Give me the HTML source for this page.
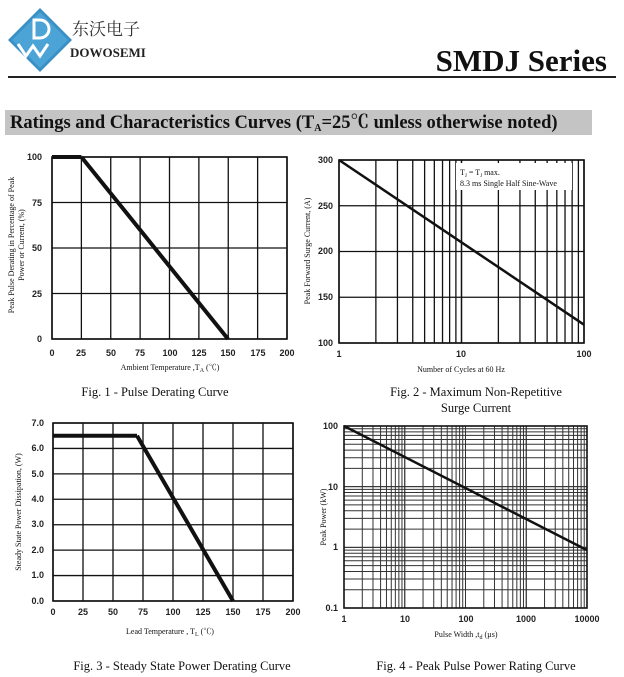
<!DOCTYPE html>
<html><head><meta charset="utf-8"><style>
body{margin:0;background:#fff;width:624px;height:677px;overflow:hidden}
svg{display:block}
text{font-family:"Liberation Serif","Noto Serif CJK SC",serif;fill:#111}
.t{font-size:9px}
.a{font-size:8px}
.c{font-size:12.5px}
.s{font-family:"Liberation Sans",sans-serif;font-size:9px;font-weight:bold;fill:#222}
</style></head><body>
<svg id="s" width="624" height="677" xmlns="http://www.w3.org/2000/svg">
<polygon points="40,8 72,40 40,72 8,40" fill="#3a8fc4"/>
<polygon points="40,12 68,40 40,68 12,40" fill="#4ba3d6"/>
<path d="M34,20 v18 h6 a9,9 0 0 0 0,-18 z" fill="none" stroke="#fff" stroke-width="3"/>
<path d="M18,44 l8,12 l7,-10 l7,10 l8,-12" fill="none" stroke="#fff" stroke-width="3"/>
<text x="72" y="35" style="font-family:'Noto Serif CJK SC',serif;font-size:17px;fill:#333">东沃电子</text>
<text x="70" y="57" style="font-family:'Liberation Serif',serif;font-size:13px;font-weight:bold;fill:#222">DOWOSEMI</text>
<text x="607" y="71" text-anchor="end" style="font-size:31px;font-weight:bold">SMDJ Series</text>
<rect x="8" y="76" width="608" height="2" fill="#222"/>
<rect x="5" y="110" width="587" height="25" fill="#c4c4c4"/>
<text x="10" y="128" style="font-size:18.5px;font-weight:bold">Ratings and Characteristics Curves (T<tspan dy="3" font-size="10">A</tspan><tspan dy="-3">=25℃ unless otherwise noted)</tspan></text>
<g id="g"></g>
<g class="s" text-anchor="end">
<text class="s" x="42" y="160">100</text><text class="s" x="42" y="206">75</text><text class="s" x="42" y="251">50</text><text class="s" x="42" y="297">25</text><text class="s" x="42" y="342">0</text>
</g>
<g text-anchor="middle">
<text class="s" x="52" y="356">0</text><text class="s" x="81" y="356">25</text><text class="s" x="111" y="356">50</text><text class="s" x="140" y="356">75</text><text class="s" x="170" y="356">100</text><text class="s" x="199" y="356">125</text><text class="s" x="228" y="356">150</text><text class="s" x="258" y="356">175</text><text class="s" x="287" y="356">200</text>
<text class="a" x="170" y="370">Ambient Temperature ,T<tspan font-size="6" dy="2">A</tspan><tspan dy="-2"> (℃)</tspan></text>
<text class="c" x="155" y="396">Fig. 1 - Pulse Derating Curve</text>
<text class="a" transform="translate(14,245) rotate(-90)">Peak Pulse Derating in Percentage of Peak</text>
<text class="a" transform="translate(24,245) rotate(-90)">Power or Current, (%)</text>
<text class="s" x="339" y="357">1</text><text class="s" x="461" y="357">10</text><text class="s" x="584" y="357">100</text>
<text class="a" x="461" y="372">Number of Cycles at 60 Hz</text>
<text class="c" x="476" y="396">Fig. 2 - Maximum Non-Repetitive</text>
<text class="c" x="476" y="412">Surge Current</text>
<text class="a" transform="translate(310,251) rotate(-90)">Peak Forward Surge Current, (A)</text>
<text class="s" x="53" y="615">0</text><text class="s" x="83" y="615">25</text><text class="s" x="113" y="615">50</text><text class="s" x="143" y="615">75</text><text class="s" x="173" y="615">100</text><text class="s" x="203" y="615">125</text><text class="s" x="233" y="615">150</text><text class="s" x="263" y="615">175</text><text class="s" x="293" y="615">200</text>
<text class="a" x="170" y="634">Lead Temperature , T<tspan font-size="6" dy="2">L</tspan><tspan dy="-2"> (℃)</tspan></text>
<text class="c" x="182" y="670">Fig. 3 - Steady State Power Derating Curve</text>
<text class="a" transform="translate(21,512) rotate(-90)">Steady State Power Dissipation, (W)</text>
<text class="s" x="344" y="622">1</text><text class="s" x="405" y="622">10</text><text class="s" x="466" y="622">100</text><text class="s" x="526" y="622">1000</text><text class="s" x="587" y="622">10000</text>
<text class="a" x="466" y="637">Pulse Width ,t<tspan font-size="6" dy="2">d</tspan><tspan dy="-2"> (µs)</tspan></text>
<text class="c" x="476" y="670">Fig. 4 - Peak Pulse Power Rating Curve</text>
<text class="a" transform="translate(326,517) rotate(-90)">Peak Power  (kW)</text>
</g>
<g text-anchor="end">
<text class="s" x="333" y="163">300</text><text class="s" x="333" y="209">250</text><text class="s" x="333" y="254">200</text><text class="s" x="333" y="300">150</text><text class="s" x="333" y="346">100</text>
<text class="s" x="44" y="426">7.0</text><text class="s" x="44" y="451">6.0</text><text class="s" x="44" y="477">5.0</text><text class="s" x="44" y="502">4.0</text><text class="s" x="44" y="527">3.0</text><text class="s" x="44" y="553">2.0</text><text class="s" x="44" y="578">1.0</text><text class="s" x="44" y="604">0.0</text>
<text class="s" x="338" y="429">100</text><text class="s" x="338" y="490">10</text><text class="s" x="338" y="550">1</text><text class="s" x="338" y="611">0.1</text>
</g>
<rect x="456" y="163" width="116" height="27" fill="#fff"/>
<text class="a" x="460" y="175">T<tspan font-size="5" dy="2">J</tspan><tspan dy="-2"> = T</tspan><tspan font-size="5" dy="2">J</tspan><tspan dy="-2"> max.</tspan></text>
<text class="a" x="460" y="186">8.3 ms Single Half Sine-Wave</text>
</svg>
<script>
var g=document.getElementById('g'),h='';
function L(x1,y1,x2,y2,w,c){h+='<line x1="'+x1+'" y1="'+y1+'" x2="'+x2+'" y2="'+y2+'" stroke="'+(c||'#111')+'" stroke-width="'+w+'"/>';}
for(var i=0;i<=8;i++){var x=52+i*235/8;L(x,157,x,339,1.3);}
for(i=0;i<=4;i++){var y=157+i*182/4;L(52,y,287,y,1.3);}
h+='<rect x="52" y="157" width="235" height="182" fill="none" stroke="#111" stroke-width="1.6"/>';
L(52,157,81.4,157,4);L(81.4,157,228,339,4);
for(var d=0;d<2;d++)for(var k=1;k<=10;k++){var x=339+122.5*(d+Math.log10(k));L(x,160,x,343,1.3);}
for(i=0;i<=4;i++){var y=160+i*183/4;L(339,y,584,y,1.3);}
h+='<rect x="339" y="160" width="245" height="183" fill="none" stroke="#111" stroke-width="1.6"/>';
L(339,160,584,324.7,2.5);
for(i=0;i<=8;i++){var x=53+i*30;L(x,423,x,601,1.3);}
for(i=0;i<=7;i++){var y=423+i*178/7;L(53,y,293,y,1.3);}
h+='<rect x="53" y="423" width="240" height="178" fill="none" stroke="#111" stroke-width="1.6"/>';
var y65=423+0.5*178/7;L(53,y65,137,y65,4);L(137,y65,233,601,4);
for(d=0;d<4;d++)for(k=1;k<=10;k++){var x=344+60.75*(d+Math.log10(k));L(x,426,x,608,1,'#333');}
for(d=0;d<3;d++)for(k=1;k<=10;k++){var y=608-60.67*(d+Math.log10(k));L(344,y,587,y,1,'#333');}
h+='<rect x="344" y="426" width="243" height="182" fill="none" stroke="#111" stroke-width="1.6"/>';
L(344,426,587,608-60.67*(1+Math.log10(0.9)),2.5);
g.innerHTML=h;
</script>
</body></html>
